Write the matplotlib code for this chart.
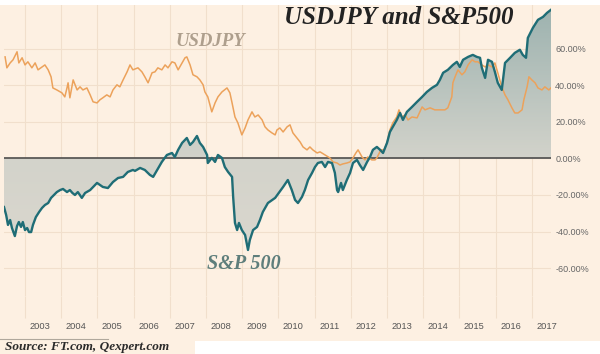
import numpy as np
import matplotlib.pyplot as plt
from matplotlib.colors import LinearSegmentedColormap
from matplotlib.patches import Rectangle
from matplotlib.lines import Line2D

# S&P 500, % change
spx_year = [2002.42, 2002.48, 2002.53, 2002.59, 2002.64, 2002.72, 2002.78, 2002.83, 2002.89, 2002.94,
            2003.00, 2003.06, 2003.11, 2003.17, 2003.22, 2003.30, 2003.39, 2003.47, 2003.55, 2003.64,
            2003.72, 2003.80, 2003.88, 2003.97, 2004.05, 2004.16, 2004.24, 2004.31, 2004.38, 2004.46,
            2004.57, 2004.66, 2004.80, 2004.99, 2005.15, 2005.29, 2005.43, 2005.57, 2005.71, 2005.84,
            2005.98, 2006.04, 2006.18, 2006.31, 2006.45, 2006.54, 2006.65, 2006.78, 2006.92, 2007.06,
            2007.14, 2007.23, 2007.34, 2007.47, 2007.56, 2007.64, 2007.75, 2007.83, 2007.92, 2008.03,
            2008.05, 2008.16, 2008.25, 2008.33, 2008.44, 2008.52, 2008.61, 2008.72, 2008.75, 2008.80,
            2008.86, 2008.91, 2008.99, 2009.08, 2009.16, 2009.21, 2009.30, 2009.41, 2009.49, 2009.57,
            2009.71, 2009.91, 2010.13, 2010.26, 2010.37, 2010.46, 2010.54, 2010.65, 2010.73, 2010.82,
            2010.93, 2011.01, 2011.09, 2011.20, 2011.29, 2011.37, 2011.48, 2011.56, 2011.62, 2011.65,
            2011.73, 2011.78, 2011.89, 2011.98, 2012.06, 2012.17, 2012.25, 2012.34, 2012.45, 2012.53,
            2012.61, 2012.72, 2012.81, 2012.89, 2013.00, 2013.08, 2013.16, 2013.27, 2013.36, 2013.44,
            2013.55, 2013.69, 2013.83, 2013.97, 2014.10, 2014.24, 2014.38, 2014.46, 2014.55, 2014.68,
            2014.82, 2014.93, 2015.01, 2015.10, 2015.24, 2015.37, 2015.48, 2015.57, 2015.62, 2015.71,
            2015.79, 2015.90, 2015.98, 2016.06, 2016.17, 2016.26, 2016.40, 2016.53, 2016.67, 2016.75,
            2016.84, 2016.89, 2017.03, 2017.17, 2017.31, 2017.42, 2017.53]
spx_pct = [-26.6, -31.0, -36.4, -33.7, -38.1, -42.5, -37.0, -34.8, -37.5, -34.8,
           -39.2, -38.1, -40.3, -40.3, -36.4, -32.1, -29.3, -27.1, -25.5, -24.4,
           -21.6, -20.0, -18.4, -17.3, -16.7, -18.4, -17.3, -18.9, -20.0, -18.4,
           -21.6, -18.9, -17.3, -13.4, -15.6, -16.2, -12.9, -10.7, -10.1, -7.4,
           -6.3, -6.8, -5.2, -6.3, -9.0, -10.1, -6.3, -1.9, 1.9, 3.0,
           0.8, 4.7, 8.5, 11.2, 7.4, 9.0, 12.3, 8.5, 6.3, 1.9,
           -2.5, 0.3, -1.9, 1.9, 0.3, -4.7, -7.4, -10.1, -21.1, -35.3,
           -39.2, -35.3, -39.2, -41.9, -50.1, -44.7, -39.2, -37.5, -33.7, -29.3,
           -24.4, -21.6, -15.6, -11.8, -17.3, -22.7, -24.4, -21.1, -17.3, -11.8,
           -7.9, -4.7, -2.5, -1.9, -4.7, -1.9, -2.5, -7.9, -17.3, -18.4,
           -13.4, -17.3, -11.8, -7.9, -2.5, -0.8, -3.6, -6.3, -1.9, 0.8,
           4.7, 6.3, 4.7, 3.0, 8.5, 14.5, 17.3, 21.1, 24.9, 21.1,
           25.5, 28.2, 31.0, 33.7, 36.4, 38.6, 40.3, 43.0, 46.9, 48.5,
           51.2, 52.9, 50.1, 54.0, 55.6, 56.7, 55.6, 55.1, 49.6, 44.1,
           54.0, 52.9, 47.4, 41.4, 37.5, 52.3, 55.1, 57.8, 59.5, 56.7,
           55.1, 66.0, 71.5, 75.9, 77.5, 79.7, 81.4]

# USDJPY, % change
jpy_year = [2002.45, 2002.50, 2002.59, 2002.67, 2002.78, 2002.83, 2002.92, 2003.00, 2003.08, 2003.19,
            2003.28, 2003.36, 2003.47, 2003.55, 2003.64, 2003.72, 2003.77, 2003.88, 2004.02, 2004.10,
            2004.16, 2004.19, 2004.24, 2004.33, 2004.44, 2004.52, 2004.60, 2004.71, 2004.80, 2004.88,
            2004.99, 2005.07, 2005.15, 2005.26, 2005.35, 2005.43, 2005.54, 2005.62, 2005.71, 2005.82,
            2005.90, 2005.98, 2006.12, 2006.23, 2006.31, 2006.40, 2006.51, 2006.59, 2006.67, 2006.78,
            2006.87, 2006.95, 2007.06, 2007.14, 2007.23, 2007.34, 2007.42, 2007.47, 2007.56, 2007.64,
            2007.75, 2007.83, 2007.92, 2007.97, 2008.05, 2008.16, 2008.25, 2008.33, 2008.44, 2008.58,
            2008.66, 2008.72, 2008.80, 2008.88, 2008.99, 2009.08, 2009.16, 2009.27, 2009.35, 2009.44,
            2009.55, 2009.63, 2009.71, 2009.82, 2009.91, 2009.96, 2010.04, 2010.13, 2010.24, 2010.32,
            2010.40, 2010.51, 2010.60, 2010.68, 2010.79, 2010.87, 2010.95, 2011.07, 2011.15, 2011.29,
            2011.42, 2011.51, 2011.62, 2011.70, 2011.78, 2011.89, 2011.98, 2012.06, 2012.14, 2012.20,
            2012.31, 2012.39, 2012.47, 2012.58, 2012.67, 2012.72, 2012.83, 2012.92, 2013.00, 2013.08,
            2013.16, 2013.27, 2013.33, 2013.41, 2013.50, 2013.58, 2013.69, 2013.83, 2013.97, 2014.05,
            2014.19, 2014.32, 2014.46, 2014.60, 2014.68, 2014.79, 2014.82, 2014.88, 2014.96, 2015.07,
            2015.15, 2015.24, 2015.35, 2015.43, 2015.51, 2015.62, 2015.71, 2015.79, 2015.90, 2015.98,
            2016.06, 2016.17, 2016.26, 2016.34, 2016.45, 2016.53, 2016.62, 2016.73, 2016.78, 2016.87,
            2016.92, 2017.00, 2017.09, 2017.17, 2017.28, 2017.36, 2017.47, 2017.53]
jpy_pct = [55.6, 49.6, 52.3, 54.0, 58.4, 52.3, 55.1, 51.2, 52.9, 49.6,
           52.3, 48.5, 50.1, 51.2, 48.5, 44.7, 38.6, 37.5, 35.9, 33.7,
           38.6, 41.4, 33.2, 43.0, 37.5, 39.2, 37.5, 38.6, 34.8, 31.0,
           30.4, 32.1, 33.2, 34.8, 33.7, 37.5, 40.3, 39.2, 43.0, 47.4,
           51.2, 48.5, 49.6, 47.4, 44.7, 41.4, 46.9, 47.4, 49.6, 48.5,
           51.2, 49.6, 52.9, 52.3, 48.5, 52.3, 55.1, 55.6, 51.2, 45.8,
           44.7, 43.0, 40.3, 36.4, 33.7, 25.5, 30.4, 33.7, 36.4, 38.6,
           35.9, 30.4, 22.7, 19.5, 12.9, 16.7, 21.1, 25.5, 22.7, 23.8,
           21.1, 17.3, 15.6, 14.0, 12.9, 15.6, 16.7, 14.5, 17.3, 18.4,
           14.0, 11.2, 9.0, 6.3, 4.7, 6.3, 4.7, 3.0, 3.6, 1.9,
           0.3, -1.9, -2.5, -3.6, -3.0, -2.5, -1.9, 0.3, 3.0, 4.7,
           0.8, -0.8, 0.8, -0.8, -0.8, 0.3, 4.7, 4.7, 8.5, 15.6,
           19.5, 22.7, 26.6, 22.7, 23.8, 21.1, 22.7, 22.2, 28.2, 26.6,
           27.7, 26.6, 26.6, 26.6, 27.7, 33.7, 41.4, 44.7, 48.5, 45.8,
           47.4, 51.2, 54.0, 52.9, 52.9, 51.2, 50.1, 51.2, 50.1, 52.3,
           46.9, 39.2, 34.8, 32.1, 27.7, 24.9, 24.9, 26.6, 32.1, 39.2,
           44.7, 43.0, 41.4, 38.6, 37.5, 39.2, 37.5, 38.6]

years = list(range(2003, 2018))
pct_ticks = [-60, -40, -20, 0, 20, 40, 60]

bg = '#fdf0e2'
grid_c = '#f1dfcc'
x0, x1 = 2002.42, 2017.53
y0, y1 = -75.3, 84.0

fig = plt.figure(figsize=(6, 3.54), dpi=100)
fig.patch.set_facecolor(bg)
ax = fig.add_axes([4 / 600, 58 / 354, 547 / 600, 291 / 354])
ax.set_facecolor(bg)
ax.set_xlim(x0, x1)
ax.set_ylim(y0, y1)

# shaded area between S&P line and zero, vertical gradient
poly = ax.fill_between(spx_year, spx_pct, 0, color='none', lw=0)
cmap = LinearSegmentedColormap.from_list('fill', [(0, '#ded9cf'), (0.47, '#d3d3cb'), (1, '#9cb2af')])
grad = np.linspace(0, 1, 256).reshape(-1, 1)
im = ax.imshow(grad, extent=[x0, x1, y0, y1], origin='lower', aspect='auto', cmap=cmap, zorder=1)
im.set_clip_path(poly.get_paths()[0], transform=ax.transData)

ax.axhline(0, color='#4d4d4d', lw=1.2, zorder=2)
ax.plot(jpy_year, jpy_pct, color='#eca25b', lw=1.1, zorder=3)
ax.plot(spx_year, spx_pct, color='#1f6d76', lw=1.7, zorder=4)

for s in ax.spines.values():
    s.set_visible(False)

ax.set_xticks(years)
ax.set_xticklabels([])
ax.set_xticks([y + 0.41 for y in years], minor=True)
ax.set_xticklabels([str(y) for y in years], minor=True, fontsize=6.7, color='#555555',
                   family='Liberation Sans')
ax.tick_params(axis='x', which='major', length=16, color=grid_c, width=0.8, direction='out')
ax.tick_params(axis='x', which='minor', length=0, pad=18.5)

ax.yaxis.tick_right()
ax.set_yticks(pct_ticks)
ax.set_yticklabels([f'{v:.2f}%' for v in pct_ticks], fontsize=6.5, color='#666666',
                   family='Liberation Sans')
ax.tick_params(axis='y', length=0, pad=3)

ax.grid(True, which='major', color=grid_c, lw=0.8)
ax.set_axisbelow(True)

# white areas around the chart image
fig.add_artist(Rectangle((0, 1 - 5 / 354), 1, 5 / 354, transform=fig.transFigure,
                         fc='white', ec='none', zorder=-1))
fig.add_artist(Rectangle((195 / 600, 0), 1, 13 / 354, transform=fig.transFigure,
                         fc='white', ec='none', zorder=-1))

fig.text(399 / 600, 1 - 17 / 354, 'USDJPY and S&P500', family='Liberation Serif', style='italic',
         weight='bold', fontsize=18, ha='center', va='center', color='#222222')
fig.text(210 / 600, 1 - 42 / 354, 'USDJPY', family='Liberation Serif', style='italic',
         weight='bold', fontsize=13.5, ha='center', va='center', color='#ae9f8d')
fig.text(244 / 600, 1 - 264 / 354, 'S&P 500', family='Liberation Serif', style='italic',
         weight='bold', fontsize=14.5, ha='center', va='center', color='#5e7e7b')
fig.add_artist(Line2D([0, 108 / 600], [1 - 339 / 354] * 2, color='#b0a89c', lw=0.8))
fig.text(5 / 600, 1 - 347 / 354, 'Source: FT.com, Qexpert.com', family='Liberation Serif',
         style='italic', weight='bold', fontsize=9.5, ha='left', va='center', color='#2a2a2a')

fig.savefig('out.png', dpi=100, facecolor=fig.get_facecolor())
